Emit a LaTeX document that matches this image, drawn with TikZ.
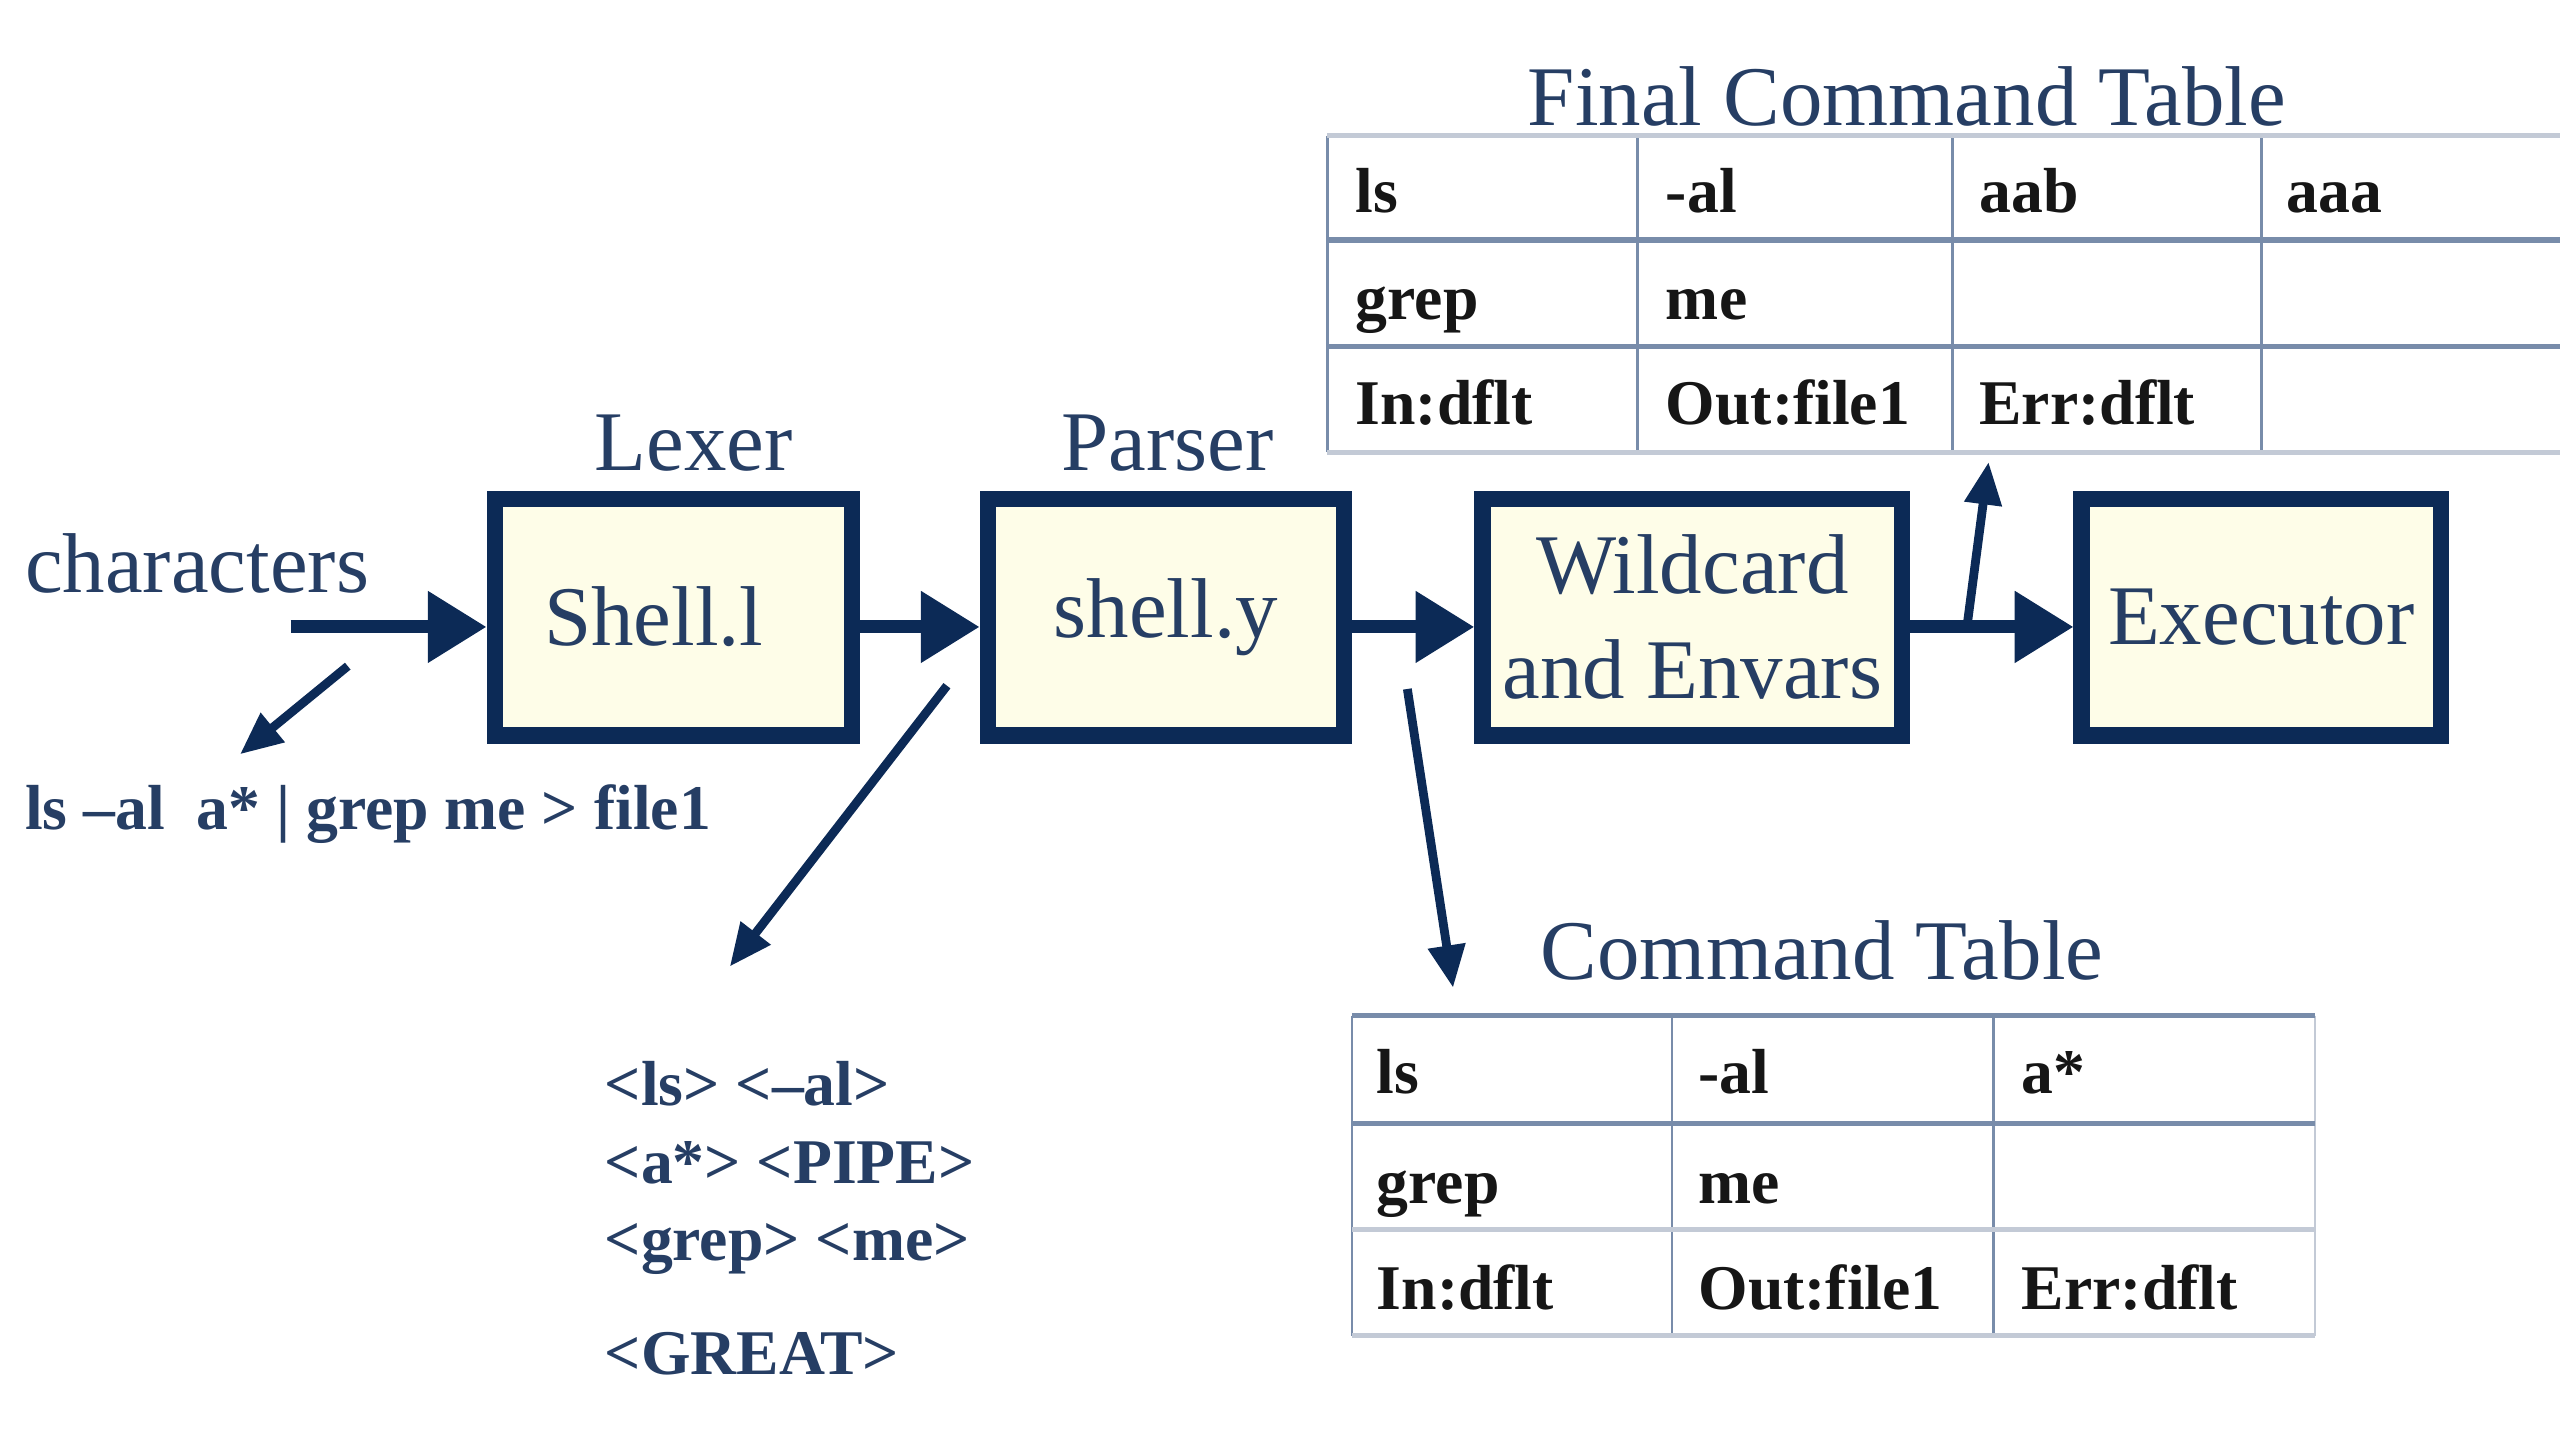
\documentclass[tikz,border=0pt]{standalone}
\usepackage{fontspec}
\setmainfont{Liberation Serif}
\usetikzlibrary{arrows.meta}
\definecolor{navy}{RGB}{12,42,86}
\definecolor{txtnavy}{RGB}{38,62,100}
\definecolor{boxfill}{RGB}{254,253,232}
\definecolor{tblline}{RGB}{120,140,170}
\definecolor{tbllight}{RGB}{195,202,214}
\definecolor{celltxt}{RGB}{22,22,22}
\begin{document}
\begin{tikzpicture}[x=0.5pt,y=-0.5pt,
  stage/.style={draw=navy, line width=5pt, fill=boxfill, inner sep=0pt,
    minimum height=72.5pt, text=txtnavy, font=\fontsize{26}{32}\selectfont, align=center},
  biglabel/.style={text=txtnavy, font=\fontsize{26}{31}\selectfont, inner sep=0pt},
  smalltxt/.style={text=txtnavy, font=\fontsize{19.5}{23}\selectfont\bfseries, inner sep=0pt, anchor=base west},
  cell/.style={text=celltxt, font=\fontsize{19.5}{23}\selectfont\bfseries, inner sep=0pt, anchor=base west},
  bigarrow/.style={draw=navy, line width=4pt, -{Triangle[length=18pt,width=21pt]}},
  thinarrow/.style={draw=navy, line width=2.7pt, -{Triangle[length=13pt,width=11pt]}},
  hline/.style={draw=tblline, line width=1.6pt},
  vline/.style={draw=tblline, line width=0.8pt},
  lightline/.style={draw=tbllight, line width=1.6pt}
]
\useasboundingbox (0,0) rectangle (1568,882);

% ---------- stage boxes ----------
\node[stage, minimum width=109.5pt] (lexer) at (412.5,378) {\hspace*{-12pt}Shell.l};
\node[stage, minimum width=109pt] (parser) at (714,378) {shell.y};
\node[stage, minimum width=128.5pt] (wild) at (1036.5,378) {Wildcard\\and Envars};
\node[stage, minimum width=110pt] (exec) at (1385,378) {Executor};

% ---------- labels ----------
\node[biglabel, anchor=base] (lexlbl) at (425,288) {Lexer};
\node[biglabel, anchor=base] (parlbl) at (715,288) {Parser};
\node[biglabel, anchor=base west] (chars) at (15,363) {characters};
\node[biglabel, anchor=base] (ftitle) at (1168,77) {Final Command Table};
\node[biglabel, anchor=base] (ctitle) at (1116,600) {Command Table};

% ---------- small texts ----------
\node[smalltxt] (cmdline) at (15,508) {ls –al\ \ a* | grep me > file1};
\node[smalltxt] (tok1) at (370,677) {<ls> <–al>};
\node[smalltxt] (tok2) at (370,725) {<a*> <PIPE>};
\node[smalltxt] (tok3) at (370,772) {<grep> <me>};
\node[smalltxt] (tok4) at (370,842) {<GREAT>};

% ---------- final command table ----------
\draw[vline] (813,83) -- (813,277);
\draw[vline] (1003,83) -- (1003,277);
\draw[vline] (1196,83) -- (1196,277);
\draw[vline] (1385,83) -- (1385,277);
\draw[lightline] (813,83) -- (1568,83);
\draw[hline] (813,147) -- (1568,147);
\draw[hline] (813,212) -- (1568,212);
\draw[lightline] (813,277) -- (1568,277);
\node[cell] (f11) at (830,130) {ls};
\node[cell] (f12) at (1020,130) {-al};
\node[cell] (f13) at (1212,130) {aab};
\node[cell] (f14) at (1400,130) {aaa};
\node[cell] (f21) at (830,196) {grep};
\node[cell] (f22) at (1020,196) {me};
\node[cell] (f31) at (830,260) {In:dflt};
\node[cell] (f32) at (1020,260) {Out:file1};
\node[cell] (f33) at (1212,260) {Err:dflt};

% ---------- command table ----------
\draw[vline] (828,622) -- (828,818);
\draw[vline] (1024,622) -- (1024,818);
\draw[vline] (1221,622) -- (1221,818);
\draw[vline, draw=tbllight] (1418,622) -- (1418,818);
\draw[hline] (828,622) -- (1418,622);
\draw[hline] (828,688) -- (1418,688);
\draw[lightline] (828,753) -- (1418,753);
\draw[lightline] (828,818) -- (1418,818);
\node[cell] (c11) at (843,670) {ls};
\node[cell] (c12) at (1040,670) {-al};
\node[cell] (c13) at (1238,670) {a*};
\node[cell] (c21) at (843,737) {grep};
\node[cell] (c22) at (1040,737) {me};
\node[cell] (c31) at (843,802) {In:dflt};
\node[cell] (c32) at (1040,802) {Out:file1};
\node[cell] (c33) at (1238,802) {Err:dflt};

% ---------- main arrows ----------
\coordinate (cin) at (178,384);
\draw[bigarrow] (cin) -- (cin -| lexer.west);
\draw[bigarrow] ([yshift=-3pt]lexer.east) -- ([yshift=-3pt]parser.west);
\draw[bigarrow] ([yshift=-3pt]parser.east) -- ([yshift=-3pt]wild.west);
\draw[bigarrow] ([yshift=-3pt]wild.east) -- ([yshift=-3pt]exec.west);

% ---------- side arrows ----------
\coordinate (a1s) at (213,408);
\coordinate (a1e) at (147,462);
\draw[thinarrow] (a1s) -- (a1e);
\coordinate (a2s) at (580,420);
\coordinate (a2e) at (447,592);
\draw[thinarrow] (a2s) -- (a2e);
\coordinate (a3s) at (862,422);
\coordinate (a3e) at (890,605);
\draw[thinarrow] (a3s) -- (a3e);
\coordinate (a4s) at (1205,382);
\coordinate (a4e) at (1218,283);
\draw[thinarrow] (a4s) -- (a4e);
\end{tikzpicture}
\end{document}
